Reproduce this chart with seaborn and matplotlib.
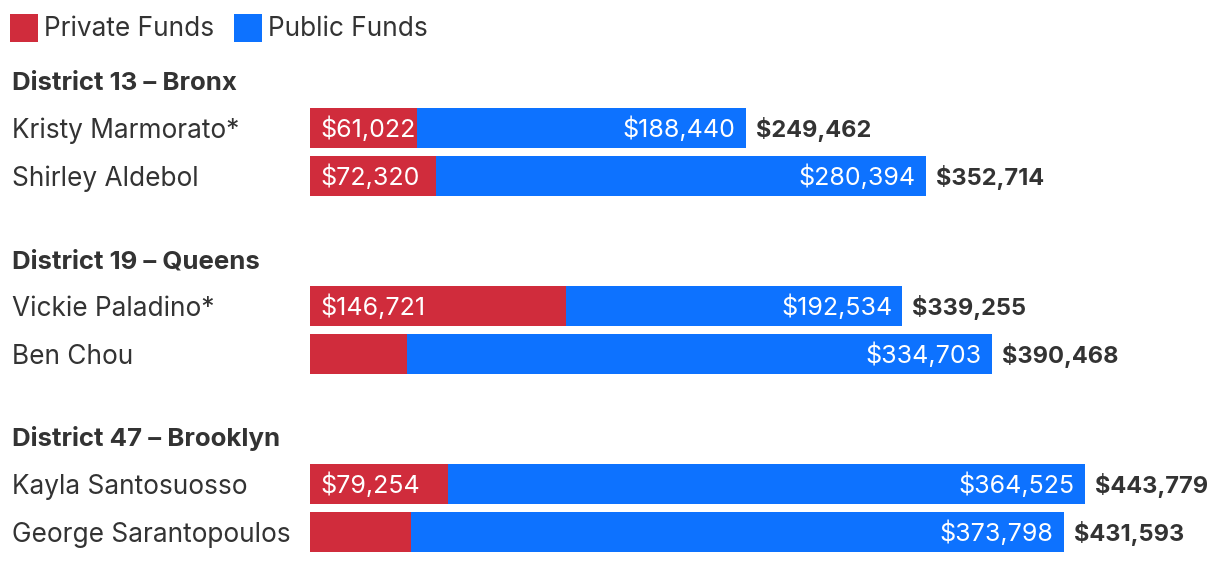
import matplotlib
matplotlib.use("Agg")
import matplotlib.pyplot as plt
import matplotlib.transforms as mtransforms
import seaborn as sns
import pandas as pd

# ---- data ----
districts = ["District 13 – Bronx", "District 19 – Queens", "District 47 – Brooklyn"]
candidates = ["Kristy Marmorato*", "Shirley Aldebol",
              "Vickie Paladino*", "Ben Chou",
              "Kayla Santosuosso", "George Sarantopoulos"]
private_funds = [61022, 72320, 146721, 55765, 79254, 57795]
public_funds = [188440, 280394, 192534, 334703, 364525, 373798]
show_private_label = [True, True, True, False, True, False]

totals = [a + b for a, b in zip(private_funds, public_funds)]

# layout (row units; one row = 48 px)
row_pos = [0.0, 1.0, 3.7083, 4.7083, 7.4167, 8.4167]
header_pos = [-0.979, 2.729, 6.4375]

RED = "#D02C3C"
BLUE = "#0D72FF"
DARK = "#333333"
FS_NAME = 18.9
FS_VAL = 18.0
FS_TOT = 17.0
FS_HEAD = 18.6


def base(fs):
    # baseline offset (row units) so the cap height is centred on the row
    return (0.727 * fs * 100 / 72) / 2 / 48


sns.set_theme(style="white")
plt.rcParams["font.family"] = ["Inter", "DejaVu Sans"]

df = pd.DataFrame({"candidate": candidates, "pos": row_pos,
                   "private": private_funds, "public": public_funds,
                   "total": totals})

fig = plt.figure(figsize=(12.2, 5.62), dpi=100)
ax = fig.add_axes([0, 0, 1, 1])

sns.barplot(data=df, x="total", y="pos", orient="h", native_scale=True,
            color=BLUE, saturation=1, width=40 / 48, linewidth=0,
            errorbar=None, ax=ax)
sns.barplot(data=df, x="private", y="pos", orient="h", native_scale=True,
            color=RED, saturation=1, width=40 / 48, linewidth=0,
            errorbar=None, ax=ax)

px_per_dollar = 0.001746
ax.set_xlim(-310 / px_per_dollar, (1220 - 310) / px_per_dollar)
ax.set_ylim((562 - 128) / 48, -128 / 48)
ax.axis("off")

pad = 10 / px_per_dollar
left_tr = mtransforms.blended_transform_factory(fig.transFigure, ax.transData)

for i, r in df.iterrows():
    y = r["pos"]
    ax.text(12 / 1220, y + base(FS_NAME), r["candidate"], transform=left_tr,
            ha="left", va="baseline", fontsize=FS_NAME, color=DARK)
    if show_private_label[i]:
        ax.text(pad, y + base(FS_VAL), f"${r['private']:,}", ha="left",
                va="baseline", fontsize=FS_VAL, color="white")
    ax.text(r["total"] - pad, y + base(FS_VAL), f"${r['public']:,}",
            ha="right", va="baseline", fontsize=FS_VAL, color="white")
    ax.text(r["total"] + pad, y + base(FS_TOT), f"${r['total']:,}",
            ha="left", va="baseline", fontsize=FS_TOT, color=DARK,
            fontweight="bold")

for d, y in zip(districts, header_pos):
    ax.text(12 / 1220, y + base(FS_HEAD), d, transform=left_tr, ha="left",
            va="baseline", fontsize=FS_HEAD, color=DARK, fontweight="bold")

# legend
H = 562.0
W = 1220.0
cap_half = 0.727 * FS_NAME * 100 / 72 / 2
for x0, col, lab in [(10, RED, "Private Funds"), (234, BLUE, "Public Funds")]:
    fig.patches.append(plt.Rectangle((x0 / W, 1 - 42 / H), 28 / W, 28 / H,
                                     transform=fig.transFigure, color=col,
                                     linewidth=0))
    fig.text((x0 + 34) / W, 1 - (26 + cap_half) / H, lab, ha="left",
             va="baseline", fontsize=FS_NAME, color=DARK)

fig.savefig("out.png", dpi=100)
